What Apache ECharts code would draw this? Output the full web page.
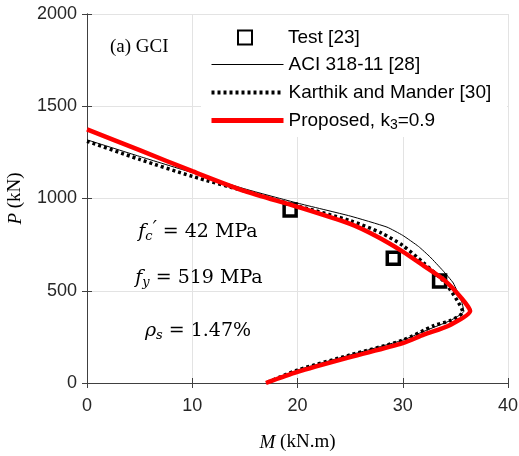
<!DOCTYPE html>
<html>
<head>
<meta charset="utf-8">
<script src="https://cdn.jsdelivr.net/npm/echarts@6/dist/echarts.min.js"></script>
<style>
html, body { margin: 0; padding: 0; background: #fff; }
#box { width: 519px; height: 456px; }
</style>
</head>
<body>
<div id="box"></div>
<script>
var mychart = echarts.init(document.getElementById("box"));

// test points (M kN.m, P kN)
var testM = [19.3, 29.1, 33.5];
var testP = [938, 676, 553];

// ACI 318-11
var aciM = [0, 5, 10, 15, 20, 25, 28.5, 30, 31.5, 32.6, 33.8, 34.8, 35.6, 35.8, 34.5, 32, 30, 25, 20, 17];
var aciP = [1318, 1228, 1140, 1052, 975, 905, 845, 800, 740, 683, 610, 542, 440, 388, 338, 280, 232, 152, 70, 0];

// Karthik and Mander
var kmM = [0, 5, 10, 15, 20, 25, 28, 30, 32, 34, 35.2, 35.7, 34.5, 33, 30, 25, 20, 17];
var kmP = [1310, 1212, 1120, 1040, 960, 880, 812, 745, 650, 545, 445, 385, 338, 312, 232, 152, 70, 0];

// Proposed, k3 = 0.9
var propM = [0, 5, 10, 15, 20, 25, 27.5, 30, 32, 34, 35.5, 36.4, 34.5, 32, 30, 25, 20, 17];
var propP = [1375, 1262, 1148, 1040, 955, 862, 795, 712, 635, 555, 465, 390, 315, 262, 216, 140, 60, 0];

function pairs(xs, ys) {
    return xs.map(function (x, i) { return [x, ys[i]]; });
}

function mathRich() {
    return {
        it: { fontFamily: 'DejaVu Serif', fontStyle: 'italic', fontSize: 19, fill: '#000' },
        sub: { fontFamily: 'DejaVu Serif', fontStyle: 'italic', fontSize: 13, fill: '#000', padding: [10, 0, 0, 0] },
        pr: { fontFamily: 'DejaVu Serif', fontStyle: 'italic', fontSize: 18, fill: '#000', padding: [0, 0, 6, 0] },
        n: { fontFamily: 'DejaVu Serif', fontSize: 19, fill: '#000' }
    };
}

var axisColor = '#404040';
var labelFont = { color: '#262626', fontSize: 18, fontFamily: 'Liberation Sans' };

var option = {
    animation: false,
    backgroundColor: '#fff',
    title: {
        text: '(a) GCI',
        left: 105,
        top: 33,
        textStyle: { fontFamily: 'Liberation Serif', fontWeight: 'normal', fontSize: 19, color: '#000' }
    },
    grid: { left: 87, right: 11, top: 14, bottom: 73, outerBoundsMode: 'none' },
    legend: [{
        data: ['Test [23]'],
        left: 237,
        top: 28,
        itemWidth: 14,
        itemHeight: 14,
        padding: 0,
        textStyle: { fontFamily: 'Liberation Sans', fontSize: 19, color: '#000', padding: [0, 0, 0, 31] }
    }, {
        data: [
            { name: 'ACI 318-11 [28]', lineStyle: { width: 1 } },
            { name: 'Karthik and Mander [30]', lineStyle: { width: 4 } },
            { name: 'Proposed, k3=0.9', lineStyle: { width: 5 } }
        ],
        orient: 'vertical',
        left: 209,
        top: 55,
        itemWidth: 72,
        itemHeight: 14,
        itemGap: 9,
        padding: 0,
        itemStyle: { opacity: 0 },
        formatter: function (name) {
            return name === 'Proposed, k3=0.9' ? 'Proposed, k{sub|3}=0.9' : name;
        },
        textStyle: {
            fontFamily: 'Liberation Sans', fontSize: 19, color: '#000',
            rich: { sub: { fontFamily: 'Liberation Sans', fontSize: 14, color: '#000', verticalAlign: 'bottom', padding: [10, 0, 0, 0] } }
        }
    }],
    xAxis: [{
        type: 'value', min: 0, max: 40, interval: 10,
        name: '{it|M} (kN.m)',
        nameLocation: 'middle',
        nameGap: 50,
        nameTextStyle: {
            fontFamily: 'Liberation Serif', fontSize: 19, color: '#000',
            rich: { it: { fontFamily: 'Liberation Serif', fontStyle: 'italic', fontSize: 19, color: '#000' } }
        },
        axisLine: { lineStyle: { color: axisColor } },
        axisTick: { inside: true, length: 5, lineStyle: { color: axisColor } },
        axisLabel: Object.assign({ margin: 14 }, labelFont),
        splitLine: { show: true, lineStyle: { color: '#e3e3e3' } }
    }, {
        type: 'value', min: 0, max: 40, interval: 10, position: 'top',
        axisLine: { show: true, lineStyle: { color: axisColor } },
        axisTick: { inside: true, length: 5, lineStyle: { color: axisColor } },
        axisLabel: { show: false },
        splitLine: { show: false }
    }],
    yAxis: [{
        type: 'value', min: 0, max: 2000, interval: 500,
        name: '{it|P} (kN)',
        nameLocation: 'middle',
        nameGap: 62,
        nameTextStyle: {
            fontFamily: 'Liberation Serif', fontSize: 19, color: '#000',
            rich: { it: { fontFamily: 'Liberation Serif', fontStyle: 'italic', fontSize: 19, color: '#000' } }
        },
        axisLine: { show: true, lineStyle: { color: axisColor } },
        axisTick: { show: true, inside: true, length: 5, lineStyle: { color: axisColor } },
        axisLabel: Object.assign({ margin: 10, formatter: function (v) { return String(v); } }, labelFont),
        splitLine: { show: true, lineStyle: { color: '#e3e3e3' } }
    }, {
        type: 'value', min: 0, max: 2000, interval: 500, position: 'right',
        axisLine: { show: true, lineStyle: { color: axisColor } },
        axisTick: { show: true, inside: true, length: 5, lineStyle: { color: axisColor } },
        axisLabel: { show: false },
        splitLine: { show: false }
    }],
    graphic: [{
        type: 'rect', z: 1,
        shape: { x: 201, y: 15, width: 306, height: 122 },
        style: { fill: '#fff' }
    }, {
        type: 'text', z: 5,
        x: 198, y: 232,
        style: {
            text: "{it|f}{sub|c}{pr|′}{n| = 42 MPa}",
            align: 'center', verticalAlign: 'middle',
            rich: mathRich()
        }
    }, {
        type: 'text', z: 5,
        x: 199, y: 278,
        style: {
            text: "{it|f}{sub|y}{n| = 519 MPa}",
            align: 'center', verticalAlign: 'middle',
            rich: mathRich()
        }
    }, {
        type: 'text', z: 5,
        x: 198, y: 331,
        style: {
            text: "{it|ρ}{sub|s}{n| = 1.47%}",
            align: 'center', verticalAlign: 'middle',
            rich: mathRich()
        }
    }],
    series: [{
        name: 'Test [23]',
        type: 'scatter',
        symbol: 'rect',
        symbolSize: 12,
        itemStyle: { color: '#fff', borderColor: '#000', borderWidth: 3.5, opacity: 1 },
        data: pairs(testM, testP),
        z: 2
    }, {
        name: 'ACI 318-11 [28]',
        type: 'line',
        symbol: 'none',
        smooth: 0.15,
        lineStyle: { color: '#000', width: 1 },
        itemStyle: { color: '#000' },
        data: pairs(aciM, aciP),
        z: 3
    }, {
        name: 'Karthik and Mander [30]',
        type: 'line',
        symbol: 'none',
        smooth: 0.25,
        lineStyle: { color: '#000', width: 3.5, type: [3, 3] },
        itemStyle: { color: '#000' },
        data: pairs(kmM, kmP),
        z: 4
    }, {
        name: 'Proposed, k3=0.9',
        type: 'line',
        symbol: 'none',
        smooth: 0.25,
        lineStyle: { color: '#ff0000', width: 4.5 },
        itemStyle: { color: '#ff0000' },
        data: pairs(propM, propP),
        z: 5
    }]
};

mychart.setOption(option);
</script>
</body>
</html>
